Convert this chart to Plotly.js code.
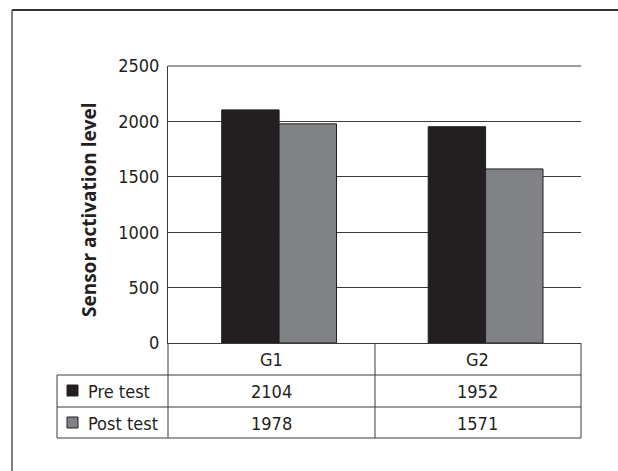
<!DOCTYPE html>
<html>
<head>
<meta charset="utf-8">
<script src="https://cdn.plot.ly/plotly-3.0.1.min.js"></script>
<style>html,body{margin:0;padding:0;background:#fff;overflow:hidden;}#chart{width:618px;height:471px;}</style>
</head>
<body>
<div id="chart"></div>
<script>
const categories = ['G1', 'G2'];
const seriesNames = ['Pre test', 'Post test'];
const preTest = [2104, 1952];
const postTest = [1978, 1571];
const yTicks = [0, 500, 1000, 1500, 2000, 2500];
const yTitle = 'Sensor activation level';

const FONT = '"DejaVu Sans Condensed", "Liberation Sans Narrow", "Liberation Sans", Arial, sans-serif';
const TXT = '#231f20';
const L = 168, R = 581, T = 66, B = 343;
const xp = px => (px - L) / (R - L);
const yp = py => (B - py) / (B - T);

const traces = [
  {type: 'bar', name: seriesNames[0], x: categories, y: preTest,
   offset: -0.24, width: 0.278,
   marker: {color: '#231f20', line: {color: '#231f20', width: 1}}, hoverinfo: 'skip'},
  {type: 'bar', name: seriesNames[1], x: categories, y: postTest,
   offset: 0.038, width: 0.278,
   marker: {color: '#808285', line: {color: '#231f20', width: 1}}, hoverinfo: 'skip'}
];

const lineC = '#3a3a3a';
const shapes = [];
function hline(py, x0, x1, c, w) { shapes.push({type: 'line', xref: 'paper', yref: 'paper', x0: xp(x0), x1: xp(x1), y0: yp(py), y1: yp(py), line: {color: c || lineC, width: w || 1}}); }
function vline(px, y0, y1, c, w) { shapes.push({type: 'line', xref: 'paper', yref: 'paper', x0: xp(px), x1: xp(px), y0: yp(y0), y1: yp(y1), line: {color: c || lineC, width: w || 1}}); }
// top gridline (2500) at the plot edge
hline(66, 168, 581);
// table grid
hline(375, 57, 581); hline(407, 57, 581); hline(438, 57, 581);
vline(57, 375, 438); vline(168, 343, 438); vline(375, 343, 438); vline(581, 343, 438);
// outer frame (open on the right and bottom)
hline(10, 12, 618, '#333', 2); vline(12, 10, 471, '#555', 1.5);
// legend keys
shapes.push({type: 'rect', xref: 'paper', yref: 'paper', x0: xp(67), x1: xp(78), y0: yp(385), y1: yp(396), fillcolor: '#231f20', line: {color: '#231f20', width: 1}});
shapes.push({type: 'rect', xref: 'paper', yref: 'paper', x0: xp(67), x1: xp(78), y0: yp(417), y1: yp(428), fillcolor: '#808285', line: {color: '#231f20', width: 1}});

const annotations = [];
const fnt = {family: FONT, size: 18, color: TXT};
const rowY = [yp(359), yp(391), yp(423)];
categories.forEach((c, i) => {
  annotations.push({xref: 'x', yref: 'paper', x: c, y: rowY[0], text: c, showarrow: false, font: fnt, xanchor: 'center', yanchor: 'middle'});
  annotations.push({xref: 'x', yref: 'paper', x: c, y: rowY[1], text: String(preTest[i]), showarrow: false, font: fnt, xanchor: 'center', yanchor: 'middle'});
  annotations.push({xref: 'x', yref: 'paper', x: c, y: rowY[2], text: String(postTest[i]), showarrow: false, font: fnt, xanchor: 'center', yanchor: 'middle'});
});
seriesNames.forEach((n, i) => {
  annotations.push({xref: 'paper', yref: 'paper', x: xp(86), y: rowY[i + 1], text: n, showarrow: false, font: fnt, xanchor: 'left', yanchor: 'middle'});
});
annotations.push({xref: 'paper', yref: 'paper', x: xp(89), y: yp(210), text: '<b>' + yTitle + '</b>', textangle: -90, showarrow: false,
  font: {family: '"Open Sans", "Noto Sans", sans-serif', size: 19, color: TXT}, xanchor: 'center', yanchor: 'middle'});

const layout = {
  width: 618, height: 471,
  margin: {l: L, r: 618 - R, t: T, b: 471 - B, pad: 0},
  paper_bgcolor: '#fff', plot_bgcolor: '#fff',
  showlegend: false,
  barmode: 'group',
  xaxis: {type: 'category', range: [-0.5, 1.5], showticklabels: false, ticks: '', showgrid: false,
    showline: true, linecolor: lineC, linewidth: 1, zeroline: false, fixedrange: true},
  yaxis: {range: [0, 2500], tickvals: yTicks, ticktext: yTicks.map(String), ticks: '', showline: true, linecolor: lineC, linewidth: 1,
    showgrid: true, gridcolor: lineC, gridwidth: 1, zeroline: false, tickfont: fnt, ticklabelstandoff: 4, fixedrange: true},
  shapes: shapes,
  annotations: annotations
};

Plotly.newPlot('chart', traces, layout, {displayModeBar: false, staticPlot: true});
</script>
</body>
</html>
